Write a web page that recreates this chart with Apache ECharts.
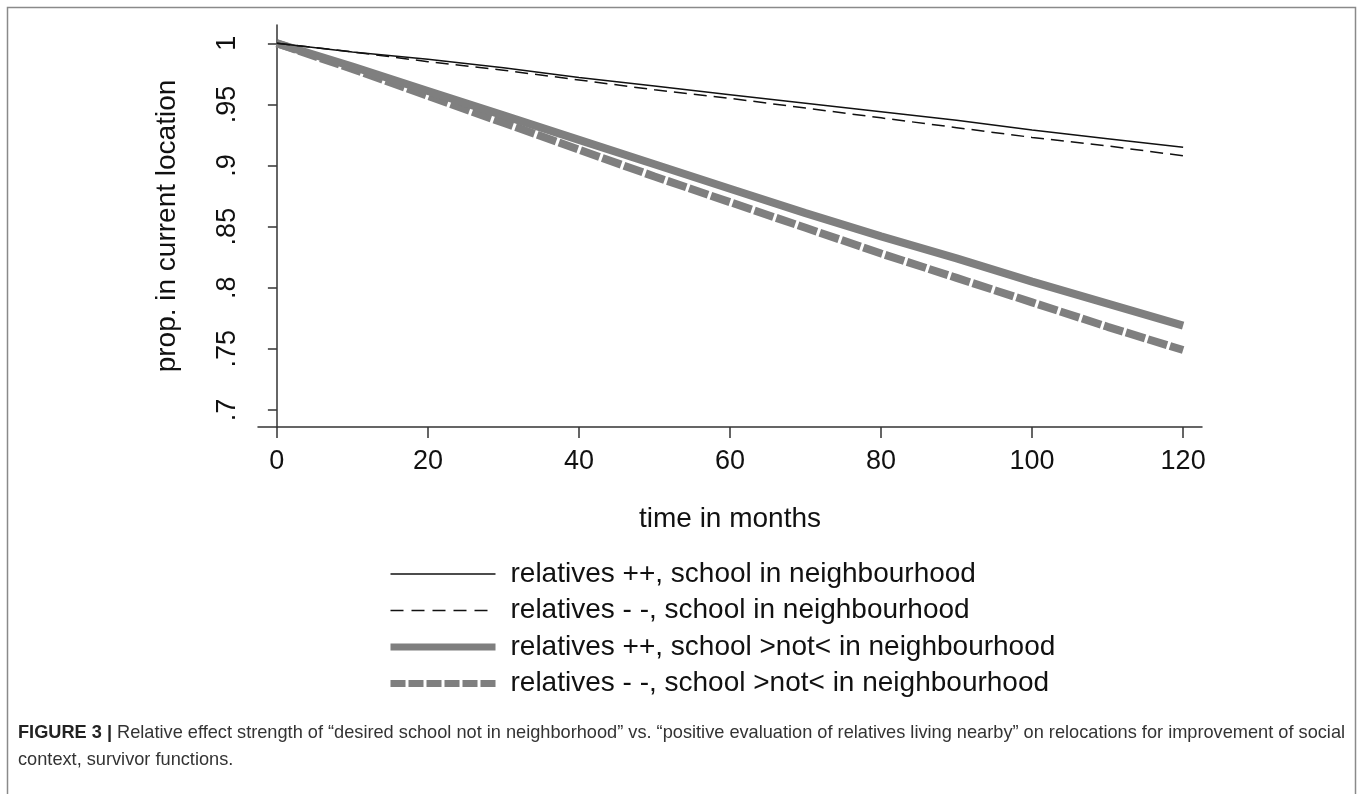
<!DOCTYPE html>
<html>
<head>
<meta charset="utf-8">
<script src="https://cdn.jsdelivr.net/npm/echarts@6/dist/echarts.min.js"></script>
<style>
html,body{margin:0;padding:0;background:#fff;}
#chart{width:1358px;height:794px;}
</style>
</head>
<body>
<div id="chart"></div>
<script>
// ---- data ----
const months = [0, 10, 20, 30, 40, 50, 60, 70, 80, 90, 100, 110, 120];
const relPlusSchoolIn     = [1, 0.993, 0.987, 0.980, 0.972, 0.965, 0.958, 0.951, 0.944, 0.937, 0.929, 0.922, 0.915];
const relMinusSchoolIn    = [1, 0.993, 0.985, 0.978, 0.970, 0.962, 0.955, 0.947, 0.939, 0.931, 0.923, 0.916, 0.908];
const relPlusSchoolNot    = [1, 0.981, 0.961, 0.941, 0.921, 0.901, 0.881, 0.861, 0.842, 0.824, 0.805, 0.787, 0.769];
const relMinusSchoolNot   = [1, 0.979, 0.957, 0.935, 0.913, 0.891, 0.870, 0.849, 0.828, 0.808, 0.788, 0.768, 0.749];
const seriesNames = [
  'relatives ++, school in neighbourhood',
  'relatives - -, school in neighbourhood',
  'relatives ++, school >not< in neighbourhood',
  'relatives - -, school >not< in neighbourhood'
];
const xTicks = [0, 20, 40, 60, 80, 100, 120];
const yTicks = [0.7, 0.75, 0.8, 0.85, 0.9, 0.95, 1];
const yTickLabels = ['.7', '.75', '.8', '.85', '.9', '.95', '1'];
const xTitle = 'time in months';
const yTitle = 'prop. in current location';
const captionBold = 'FIGURE 3 |';
const captionLine1 = ' Relative effect strength of \u201cdesired school not in neighborhood\u201d vs. \u201cpositive evaluation of relatives living nearby\u201d on relocations for improvement of social';
const captionLine2 = 'context, survivor functions.';

const FONT = 'Liberation Sans, Arial, Helvetica, sans-serif';
const pairs = arr => months.map((m, i) => [m, arr[i]]);

const styles = [
  {color: '#111', width: 1.5, type: 'solid'},
  {color: '#111', width: 1.5, type: [13, 7]},
  {color: '#7f7f7f', width: 8, type: 'solid'},
  {color: '#7f7f7f', width: 8, type: [20, 3]}
];
const legendStyles = [
  {color: '#111', width: 1.5, type: 'solid'},
  {color: '#111', width: 1.5, type: [13, 8]},
  {color: '#7f7f7f', width: 7, type: 'solid'},
  {color: '#7f7f7f', width: 7, type: [15, 3]}
];
const dataSets = [relPlusSchoolIn, relMinusSchoolIn, relPlusSchoolNot, relMinusSchoolNot];

const chart = echarts.init(document.getElementById('chart'), null, {renderer: 'canvas'});
chart.setOption({
  animation: false,
  backgroundColor: '#fff',
  textStyle: {fontFamily: FONT},
  grid: {left: 258, right: 156, top: 25, bottom: 367, containLabel: false},
  xAxis: {
    type: 'value', min: -2.5, max: 122.5,
    name: xTitle, nameLocation: 'middle', nameGap: 78,
    nameTextStyle: {fontSize: 28, color: '#111', fontFamily: FONT},
    axisLine: {show: true, lineStyle: {color: '#333', width: 1.5}},
    axisTick: {show: true, length: 11, customValues: xTicks, lineStyle: {color: '#333', width: 1.5}},
    axisLabel: {customValues: xTicks, fontSize: 27, color: '#111', margin: 21, fontFamily: FONT},
    splitLine: {show: false}
  },
  yAxis: {
    type: 'value', min: 0.686, max: 1.015,
    name: yTitle, nameLocation: 'middle', nameGap: 77, nameRotate: 90,
    nameTextStyle: {fontSize: 28, color: '#111', fontFamily: FONT},
    axisLine: {show: true, lineStyle: {color: '#333', width: 1.5}},
    axisTick: {show: true, length: 9, customValues: yTicks, lineStyle: {color: '#333', width: 1.5}},
    axisLabel: {
      customValues: yTicks, rotate: 90, fontSize: 27, color: '#111', margin: 17, fontFamily: FONT,
      formatter: v => yTickLabels[yTicks.findIndex(t => Math.abs(t - v) < 1e-9)]
    },
    splitLine: {show: false}
  },
  legend: {
    orient: 'vertical', left: 387, top: 559, padding: 0,
    itemWidth: 105, itemHeight: 14, itemGap: 6.5,
    textStyle: {fontSize: 28, color: '#111', fontFamily: FONT, lineHeight: 30, padding: [0, 0, 0, 10]},
    data: seriesNames.map((n, i) => ({name: n, lineStyle: legendStyles[i], itemStyle: {opacity: 0}}))
  },
  title: {
    left: 18, top: 719, padding: 0,
    text: '{b|' + captionBold + '}{n|' + captionLine1 + '}\n{n|' + captionLine2 + '}',
    textStyle: {
      rich: {
        b: {fontWeight: 'bold', fontSize: 18.2, color: '#222', fontFamily: FONT, lineHeight: 27},
        n: {fontWeight: 'normal', fontSize: 18.2, color: '#333', fontFamily: FONT, lineHeight: 27}
      }
    }
  },
  graphic: [{
    type: 'rect', silent: true,
    shape: {x: 7.5, y: 7.5, width: 1348, height: 900},
    style: {fill: 'none', stroke: '#8a8a8a', lineWidth: 1.5}
  }],
  series: dataSets.map((d, i) => ({
    name: seriesNames[i], type: 'line', data: pairs(d),
    symbol: 'none', showSymbol: false, smooth: false,
    lineStyle: styles[i], itemStyle: {color: styles[i].color},
    z: 4 - i
  }))
});
</script>
</body>
</html>
